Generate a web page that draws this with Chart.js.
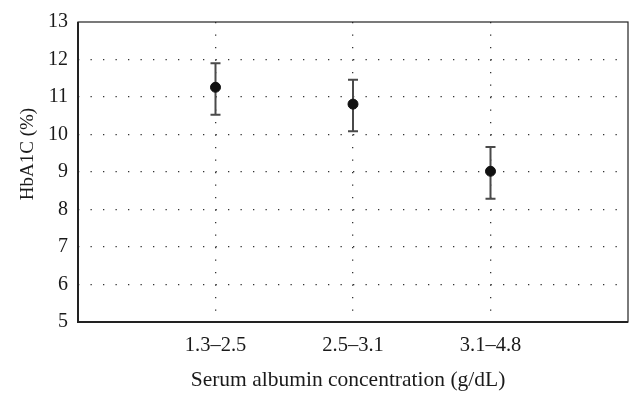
<!DOCTYPE html>
<html>
<head>
<meta charset="utf-8">
<script src="https://cdn.jsdelivr.net/npm/chart.js@4"></script>
<style>
  html, body { margin: 0; padding: 0; background: #fff; }
  #wrap { width: 643px; height: 404px; }
</style>
</head>
<body>
<div id="wrap"><canvas id="chart" width="643" height="404"></canvas></div>
<script>
// ---------- Data ----------
const categories = ["1.3\u20132.5", "2.5\u20133.1", "3.1\u20134.8"];
const meanValues = [11.26, 10.81, 9.02];
const upperValues = [11.90, 11.46, 9.67];
const lowerValues = [10.53, 10.09, 8.29];
const yTicks = [5, 6, 7, 8, 9, 10, 11, 12, 13];

const FONT = "'Liberation Serif', 'DejaVu Serif', serif";

// ---------- Error bars + frame + axis titles ----------
const errorBars = {
  id: "errorBars",
  beforeDatasetsDraw(chart) {
    const { ctx, scales: { x, y } } = chart;
    ctx.save();
    ctx.strokeStyle = "#4a4a4a";
    ctx.lineWidth = 2;
    categories.forEach((c, i) => {
      const px = x.getPixelForValue(i + 1);
      const top = y.getPixelForValue(upperValues[i]);
      const bot = y.getPixelForValue(lowerValues[i]);
      ctx.beginPath();
      ctx.moveTo(px, top); ctx.lineTo(px, bot);
      ctx.moveTo(px - 5, top); ctx.lineTo(px + 5, top);
      ctx.moveTo(px - 5, bot); ctx.lineTo(px + 5, bot);
      ctx.stroke();
    });
    ctx.restore();
  },
  afterDraw(chart) {
    const { ctx, chartArea: a } = chart;
    ctx.save();
    ctx.strokeStyle = "#222";
    ctx.lineWidth = 1.2;
    ctx.strokeRect(a.left, a.top, a.right - a.left, a.bottom - a.top);
    ctx.lineWidth = 2;
    ctx.beginPath();
    ctx.moveTo(a.left, a.top); ctx.lineTo(a.left, a.bottom); ctx.lineTo(a.right, a.bottom);
    ctx.stroke();

    ctx.fillStyle = "#1a1a1a";
    ctx.textAlign = "center";
    ctx.textBaseline = "alphabetic";
    ctx.font = "21.5px " + FONT;
    ctx.fillText("Serum albumin concentration (g/dL)", 348, 386);
    ctx.font = "19px " + FONT;
    ctx.translate(33, 154);
    ctx.rotate(-Math.PI / 2);
    ctx.fillText("HbA1C (%)", 0, 0);
    ctx.restore();
  }
};

new Chart(document.getElementById("chart"), {
  type: "scatter",
  data: {
    datasets: [{
      data: meanValues.map((v, i) => ({ x: i + 1, y: v })),
      backgroundColor: "#111",
      borderColor: "#111",
      pointRadius: 5,
      pointHoverRadius: 5
    }]
  },
  options: {
    responsive: false,
    animation: false,
    layout: { padding: { left: 0, top: 22, right: 15, bottom: 0 } },
    plugins: { legend: { display: false }, tooltip: { enabled: false } },
    scales: {
      x: {
        type: "linear",
        min: 0, max: 4,
        afterBuildTicks: axis => { axis.ticks = categories.map((c, i) => ({ value: i + 1 })); },
        afterFit: s => { s.height = 82; },
        ticks: {
          callback: v => categories[v - 1],
          font: { family: FONT, size: 20.5 },
          color: "#1a1a1a",
          padding: 11,
          maxRotation: 0
        },
        grid: { color: "#333", lineWidth: 1.3, drawTicks: false },
        border: { display: false, dash: [1.3, 11.2] }
      },
      y: {
        min: 5, max: 13,
        afterBuildTicks: axis => { axis.ticks = yTicks.map(v => ({ value: v })); },
        afterFit: s => { s.width = 78; },
        ticks: {
          font: { family: FONT, size: 20 },
          color: "#1a1a1a",
          padding: 10
        },
        grid: {
          color: ctx => (ctx.tick && (ctx.tick.value === 5 || ctx.tick.value === 13)) ? "rgba(0,0,0,0)" : "#333",
          lineWidth: 1.3,
          drawTicks: false
        },
        border: { display: false, dash: [1.3, 11.2] }
      }
    }
  },
  plugins: [errorBars]
});
</script>
</body>
</html>
